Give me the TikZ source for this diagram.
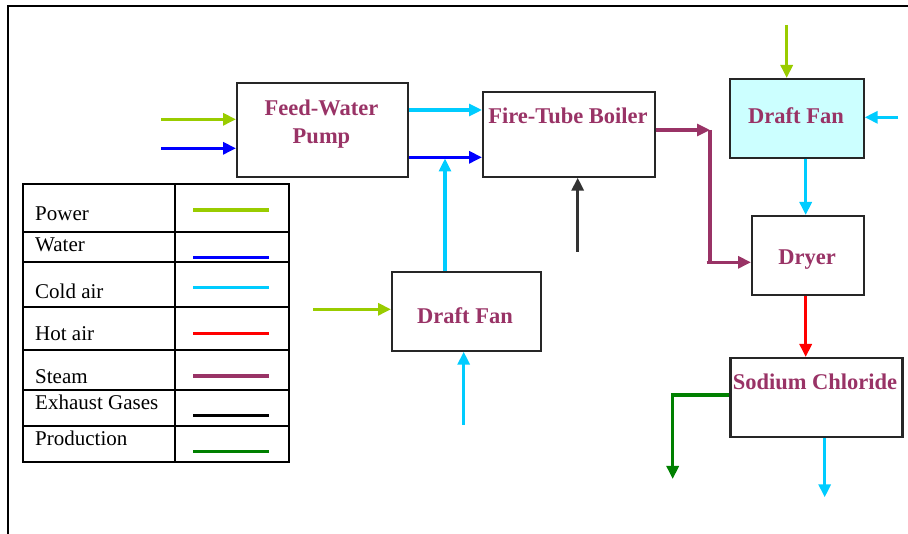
\documentclass[tikz,border=0pt]{standalone}
\usepackage{fontspec}
\setmainfont{Liberation Serif}
\usetikzlibrary{arrows.meta}
\definecolor{steam}{HTML}{993366}
\definecolor{power}{HTML}{99CC00}
\definecolor{water}{HTML}{0000FF}
\definecolor{cold}{HTML}{00CCFF}
\definecolor{hot}{HTML}{FF0000}
\definecolor{exh}{HTML}{333333}
\definecolor{prod}{HTML}{008000}
\definecolor{fanfill}{HTML}{CCFFFF}
\begin{document}
\begin{tikzpicture}[x=1pt,y=-1pt,
  box/.style={draw=black!85, line width=1.7pt, anchor=north west, inner sep=0pt},
  lbl/.style={text=steam, font=\bfseries\fontsize{22.5}{28}\selectfont, align=center, inner sep=0pt},
  leg/.style={font=\fontsize{21}{25}\selectfont, anchor=base west, inner sep=0pt},
  flow/.style={line width=3.1pt, -{Triangle[length=13pt,width=12pt]}},
  plain/.style={line width=3.1pt},
  legline/.style={line width=3.2pt},
  grid/.style={line width=1.9pt}]
\useasboundingbox (0,0) rectangle (908,534);
% frame
\draw[line width=2.6pt] (8,534) -- (8,6) -- (908,6);

% boxes
\node[box, minimum width=171pt, minimum height=94pt] (fwp) at (236,82) {};
\node[box, minimum width=172pt, minimum height=85pt] (boiler) at (482,91) {};
\node[box, fill=fanfill, minimum width=134pt, minimum height=79pt] (dfan1) at (729,78) {};
\node[box, minimum width=112pt, minimum height=79pt] (dryer) at (751,215) {};
\node[box, line width=2.5pt, minimum width=172pt, minimum height=79pt] (nacl) at (729,357) {};
\node[box, minimum width=149pt, minimum height=79pt] (dfan2) at (391,271) {};

% labels
\node[lbl] (fwpt) at (321.5,124) {Feed-Water\\Pump};
\node[lbl, anchor=base] (boilert) at (568,123.3) {Fire-Tube Boiler};
\node[lbl, anchor=base] (dfan1t) at (796,123.3) {Draft Fan};
\node[lbl, anchor=base] (dryert) at (807,264.3) {Dryer};
\node[lbl, anchor=base] (naclt) at (815,390) {Sodium Chloride};
\node[lbl, anchor=base] (dfan2t) at (465,323.3) {Draft Fan};

% connectors
\coordinate (p1) at (161,119.3);
\draw[flow,power] (p1) -- (p1 -| fwp.west);
\coordinate (w1) at (161,148.3);
\draw[flow,water] (w1) -- (w1 -| fwp.west);
\draw[flow,cold] (fwp.east |- 0,110) -- (boiler.west |- 0,110);
\draw[flow,water] (fwp.east |- 0,157.3) -- (boiler.west |- 0,157.3);
\coordinate (j) at (445,158.5);
\draw[flow,cold] (dfan2.north -| j) -- (j);
\coordinate (e0) at (577.7,252);
\draw[flow,exh] (e0) -- (e0 |- boiler.south);
\coordinate (s1) at (710,130);
\coordinate (s3) at (710,262.3);
\coordinate (s2) at (706.5,262.3);
\draw[flow,steam] (boiler.east |- s1) -- (s1);
\draw[plain,steam] (s1) -- (s3);
\draw[flow,steam] (s2) -- (s2 -| dryer.west);
\coordinate (p2) at (786.7,25);
\draw[flow,power] (p2) -- (p2 |- dfan1.north);
\coordinate (c2) at (898,117.3);
\draw[flow,cold] (c2) -- (c2 -| dfan1.east);
\draw[flow,cold] (dfan1.south -| 805.7,0) -- (dryer.north -| 805.7,0);
\coordinate (p3) at (313,309.3);
\draw[flow,power] (p3) -- (p3 -| dfan2.west);
\coordinate (c3) at (463.7,425);
\draw[flow,cold] (c3) -- (c3 |- dfan2.south);
\draw[flow,hot] (dryer.south -| 805.7,0) -- (nacl.north -| 805.7,0);
\coordinate (g1) at (672.7,479);
\draw[flow,prod] (nacl.west |- 0,395) -| (g1);
\coordinate (c4) at (824.7,497.3);
\draw[flow,cold] (c4 |- nacl.south) -- (c4);

% legend
\draw[grid] (22.7,184.3) rectangle (289.3,461.7);
\draw[grid] (175,184.3) -- (175,461.7);
\foreach \yy in {231.7,262,307.3,350,390,425.7}
  \draw[grid] (22.7,\yy) -- (289.3,\yy);
\node[leg] (lpower) at (35,220.7) {Power};
\node[leg] (lwater) at (35,251.7) {Water};
\node[leg] (lcold) at (35,298.3) {Cold air};
\node[leg] (lhot) at (35,341) {Hot air};
\node[leg] (lsteam) at (35,383.3) {Steam};
\node[leg] (lexh) at (35,410) {Exhaust Gases};
\node[leg] (lprod) at (35,445.7) {Production};
\draw[legline,power] (193.3,210) -- (269,210);
\draw[legline,water] (193.3,257.3) -- (269,257.3);
\draw[legline,cold] (193.3,287.7) -- (269,287.7);
\draw[legline,hot] (193.3,333.3) -- (269,333.3);
\draw[legline,steam] (193.3,376) -- (269,376);
\draw[legline,black] (193.3,415.3) -- (269,415.3);
\draw[legline,prod] (193.3,451.7) -- (269,451.7);
\end{tikzpicture}
\end{document}
